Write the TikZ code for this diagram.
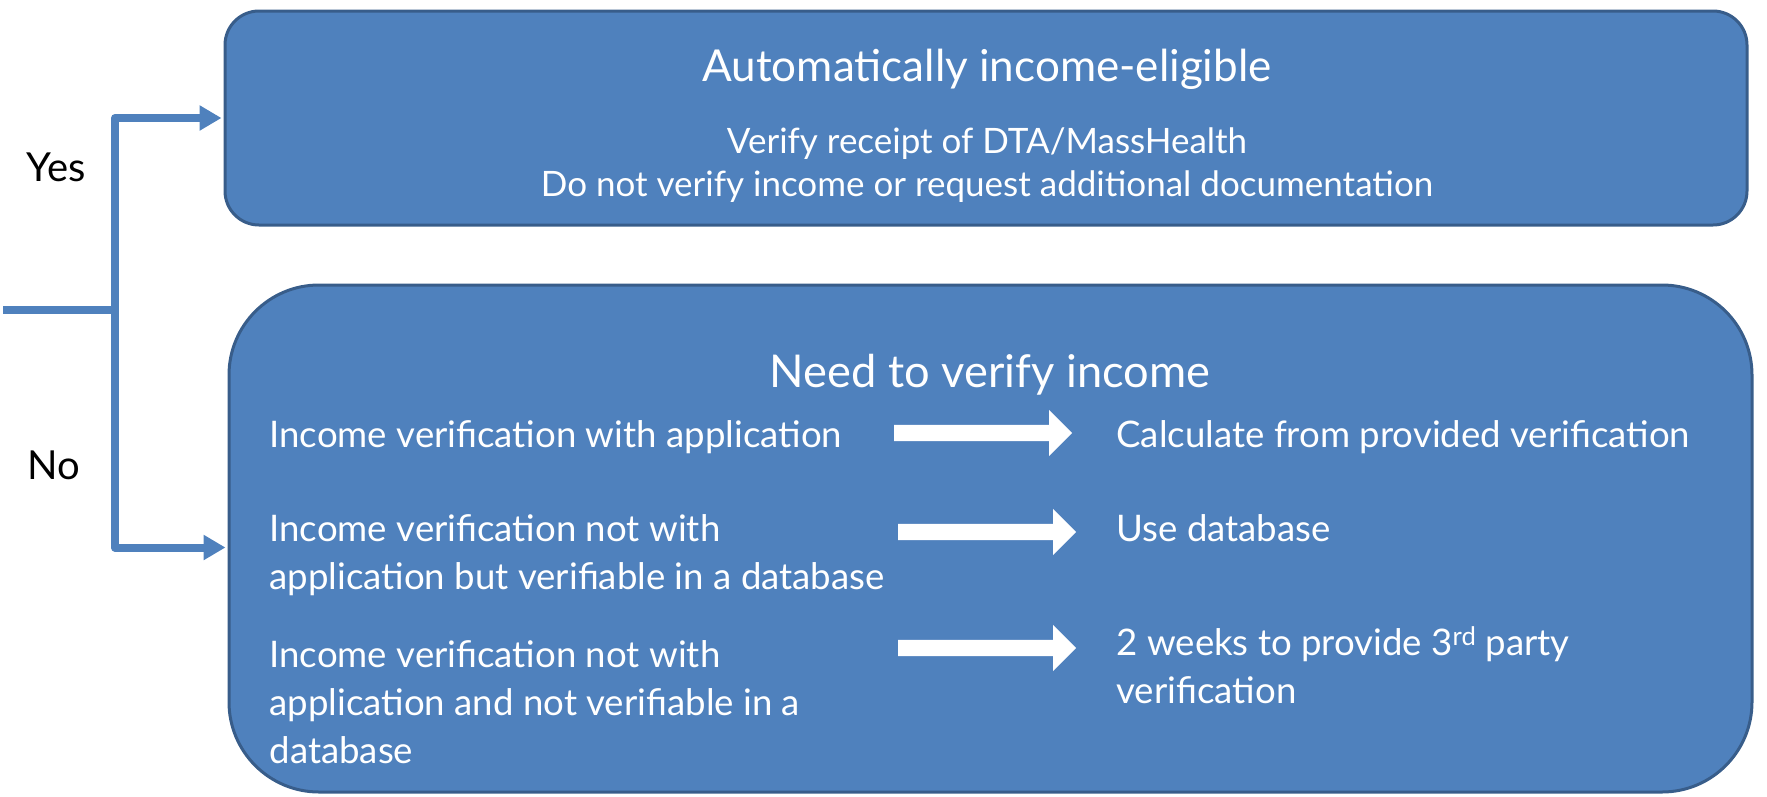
\documentclass[tikz,border=0pt]{standalone}
\usepackage{fontspec}
\setmainfont{Lato}
\usetikzlibrary{arrows.meta,shapes.arrows}
\definecolor{boxblue}{HTML}{4F81BD}
\definecolor{boxedge}{HTML}{385D8A}
\tikzset{
  panel/.style={draw=boxedge, line width=3pt, fill=boxblue},
  flow/.style={draw=boxblue, line width=8pt, line join=round},
  flowarrow/.style={flow, -{Triangle[length=22pt,width=24pt]}, shorten >=2pt},
  blockarrow/.style={single arrow, fill=white, draw=none, inner sep=8pt,
    minimum width=46pt, single arrow head extend=15pt, minimum height=178pt, anchor=west},
  head/.style={text=white, anchor=base},
  sub/.style={text=white, font=\fontsize{35}{43}\selectfont, anchor=base},
  body/.style={text=white, font=\fontsize{36.6}{48}\selectfont, anchor=base west, align=left},
  side/.style={text=black, font=\fontsize{40}{48}\selectfont, anchor=base},
}
\begin{document}
\begin{tikzpicture}[x=1pt,y=-1pt]
\useasboundingbox (0,0) rectangle (1767,796);
% panels
\node[panel, rounded corners=34pt, minimum width=1522pt, minimum height=214pt] (auto) at (986,118) {};
\node[panel, rounded corners=90pt, minimum width=1523pt, minimum height=507pt] (need) at (990.5,538.5) {};
% decision branches
\coordinate (in) at (3,310);
\coordinate (split) at (115,310);
\draw[flow] (in) -- (split);
\draw[flowarrow] (split) |- (auto.west);
\draw[flowarrow] (split) |- ([yshift=-9pt]need.west);
\node[side] (yes) at (56,181) {Yes};
\node[side] (no) at (54,479) {No};
% automatic eligibility
\node[head, font=\fontsize{44}{52}\selectfont] (autot) at (987,81) {Automatically income-eligible};
\node[sub] (auto1) at (987,153) {Verify receipt of DTA/MassHealth};
\node[sub] (auto2) at (987,196) {Do not verify income or request additional documentation};
% income verification cases (multi-line texts sit on their last baseline)
\node[head, font=\fontsize{45.2}{52}\selectfont] (needt) at (990,387) {Need to verify income};
\node[body] (c1) at (266,447) {Income verification with application};
\node[body] (c2) at (266,589) {Income verification not with\\application but verifiable in a database};
\node[body] (c3) at (266,763) {Income verification not with\\application and not verifiable in a\\database};
\node[blockarrow] (a1) at (894,433) {};
\node[blockarrow] (a2) at (898,532) {};
\node[blockarrow] (a3) at (898,648) {};
\node[body] (r1) at (1113,447) {Calculate from provided verification};
\node[body] (r2) at (1113,541) {Use database};
\node[body] (r3) at (1113,703) {2 weeks to provide 3\textsuperscript{rd} party\\verification};
\end{tikzpicture}
\end{document}
